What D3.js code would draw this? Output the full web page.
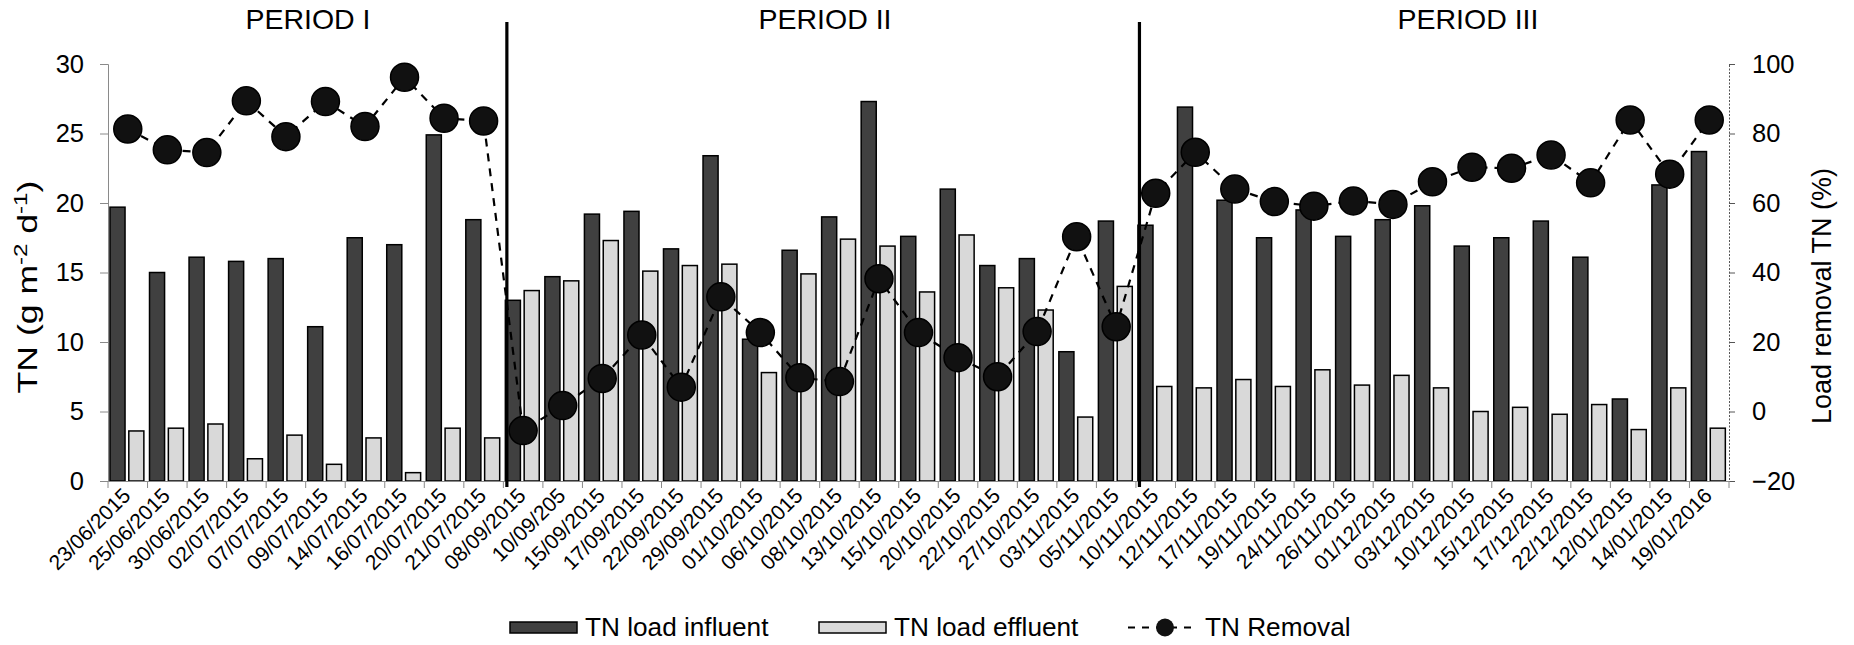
<!DOCTYPE html>
<html><head><meta charset="utf-8">
<script src="https://cdn.jsdelivr.net/npm/d3@7"></script>
<style>html,body{margin:0;padding:0;background:#fff;} svg text{font-family:"Liberation Sans",Arial,sans-serif;fill:#000;}</style>
</head><body><svg id="c" width="1854" height="645"></svg>
<script>
const dates = ["23/06/2015","25/06/2015","30/06/2015","02/07/2015","07/07/2015","09/07/2015","14/07/2015","16/07/2015","20/07/2015","21/07/2015",
"08/09/2015","10/09/205","15/09/2015","17/09/2015","22/09/2015","29/09/2015","01/10/2015","06/10/2015","08/10/2015","13/10/2015","15/10/2015","20/10/2015","22/10/2015","27/10/2015","03/11/2015","05/11/2015",
"10/11/2015","12/11/2015","17/11/2015","19/11/2015","24/11/2015","26/11/2015","01/12/2015","03/12/2015","10/12/2015","15/12/2015","17/12/2015","22/12/2015","12/01/2015","14/01/2015","19/01/2016"];
const influent = [19.7,15.0,16.1,15.8,16.0,11.1,17.5,17.0,24.9,18.8,
13.0,14.7,19.2,19.4,16.7,23.4,10.2,16.6,19.0,27.3,17.6,21.0,15.5,16.0,9.3,18.7,
18.4,26.9,20.2,17.5,19.5,17.6,18.8,19.8,16.9,17.5,18.7,16.1,5.9,21.3,23.7];
const effluent = [3.6,3.8,4.1,1.6,3.3,1.2,3.1,0.6,3.8,3.1,
13.7,14.4,17.3,15.1,15.5,15.6,7.8,14.9,17.4,16.9,13.6,17.7,13.9,12.3,4.6,14.0,
6.8,6.7,7.3,6.8,8.0,6.9,7.6,6.7,5.0,5.3,4.8,5.5,3.7,6.7,3.8];
const removal = [81.3,75.3,74.5,89.4,79.1,89.2,82.0,96.2,84.4,83.6,
-5.5,1.7,9.5,22.0,7.0,33.0,22.7,9.7,8.6,38.2,22.7,15.5,10.0,23.0,50.3,24.4,
62.8,74.6,64.0,60.4,59.1,60.6,59.6,66.1,70.3,70.0,73.8,65.8,83.9,68.3,83.9];
const leftTicks = [0,5,10,15,20,25,30];
const rightTicks = [-20,0,20,40,60,80,100];
const periodNames = ["PERIOD I","PERIOD II","PERIOD III"];
const periodStart = [0,10,26];
const seriesNames = ["TN load influent","TN load effluent","TN Removal"];

const svg = d3.select("#c");
const L = 108, R = 1729, T = 64, B = 481;
const x = d3.scaleBand().domain(dates).range([L, R]);
const sub = d3.scaleBand().domain(["inf","eff"]).range([0, x.bandwidth()]).paddingInner(0.2).paddingOuter(0.15).align(0.35);
const yL = d3.scaleLinear().domain([0,30]).range([B, T]);
const yR = d3.scaleLinear().domain([-20,100]).range([B, T]);
const DARK = "#404040", LIGHT = "#d9d9d9";

// bars
const g = svg.append("g");
g.selectAll("rect.inf").data(dates).join("rect")
  .attr("x", d => x(d) + sub("inf")).attr("width", sub.bandwidth())
  .attr("y", (d,i) => yL(influent[i])).attr("height", (d,i) => yL(0) - yL(influent[i]))
  .attr("fill", DARK).attr("stroke", "#000").attr("stroke-width", 1.5);
g.selectAll("rect.eff").data(dates).join("rect")
  .attr("x", d => x(d) + sub("eff")).attr("width", sub.bandwidth())
  .attr("y", (d,i) => yL(effluent[i])).attr("height", (d,i) => yL(0) - yL(effluent[i]))
  .attr("fill", LIGHT).attr("stroke", "#000").attr("stroke-width", 1.5);

// axes
const axL = svg.append("g").attr("transform", `translate(${L},0)`)
  .call(d3.axisLeft(yL).tickValues(leftTicks).tickSize(8).tickPadding(16));
axL.select(".domain").attr("stroke", "#8a8a8a");
axL.selectAll(".tick line").attr("stroke", "#8a8a8a");
axL.selectAll("text").attr("font-size", 25.5).attr("font-family", "Liberation Sans, Arial, sans-serif");

const axR = svg.append("g").attr("transform", `translate(${R},0)`)
  .call(d3.axisRight(yR).tickValues(rightTicks).tickSize(6).tickPadding(17));
axR.select(".domain").attr("stroke", "#555").attr("stroke-dasharray", "2,1.5");
axR.selectAll(".tick line").attr("stroke", "#555");
axR.selectAll("text").attr("font-size", 25.5).attr("font-family", "Liberation Sans, Arial, sans-serif");

const axB = svg.append("g").attr("transform", `translate(0,${B})`)
  .call(d3.axisBottom(x).tickSize(0).tickFormat(""));
axB.select(".domain").attr("stroke", "#8a8a8a");
const bounds = dates.map(d => x(d)).concat([R]);
axB.selectAll("line.bt").data(bounds).join("line").attr("class","bt")
  .attr("x1", d => d).attr("x2", d => d).attr("y1", 0).attr("y2", 7).attr("stroke", "#8a8a8a");
svg.append("g").selectAll("text").data(dates).join("text")
  .attr("transform", d => `translate(${x(d) + x.bandwidth()/2 + 4},${B + 16}) rotate(-45)`)
  .attr("text-anchor", "end").attr("font-size", 21).text(d => d);

// period dividers
svg.selectAll("line.div").data(periodStart.slice(1)).join("line").attr("class","div")
  .attr("x1", i => x(dates[i]) + 3.5).attr("x2", i => x(dates[i]) + 3.5)
  .attr("y1", 22).attr("y2", 487).attr("stroke", "#000").attr("stroke-width", 3.2);

// period titles
const titleX = [308, 825, 1468];
svg.selectAll("text.pt").data(periodNames).join("text").attr("class","pt")
  .attr("x", (d,i) => titleX[i]).attr("y", 29).attr("text-anchor", "middle")
  .attr("font-size", 28.5).text(d => d);

// removal line
const cx = i => x(dates[i]) + x.bandwidth()/2;
const line = d3.line().x((d,i) => cx(i)).y(d => yR(d));
svg.append("path").datum(removal).attr("d", line).attr("fill", "none")
  .attr("stroke", "#000").attr("stroke-width", 2.2).attr("stroke-dasharray", "8,7");
svg.selectAll("circle.rm").data(removal).join("circle").attr("class","rm")
  .attr("cx", (d,i) => cx(i)).attr("cy", d => yR(d)).attr("r", 14)
  .attr("fill", "#111").attr("stroke", "#000").attr("stroke-width", 1.5);

// axis titles
const lt = svg.append("text").attr("transform", "translate(37,287) rotate(-90) scale(1.27,1)")
  .attr("text-anchor", "middle").attr("font-size", 28);
lt.append("tspan").text("TN (g m");
lt.append("tspan").attr("dy", -10).attr("font-size", 19).text("-2");
lt.append("tspan").attr("dy", 10).text(" d");
lt.append("tspan").attr("dy", -10).attr("font-size", 19).text("-1");
lt.append("tspan").attr("dy", 10).text(")");
svg.append("text").attr("transform", "translate(1831,296) rotate(-90)")
  .attr("text-anchor", "middle").attr("font-size", 27).text("Load removal TN (%)");

// legend
const lg = svg.append("g");
lg.append("rect").attr("x", 510).attr("y", 622).attr("width", 67).attr("height", 11).attr("fill", DARK).attr("stroke", "#000").attr("stroke-width", 1.5);
lg.append("text").attr("x", 585).attr("y", 636).attr("font-size", 26.2).text(seriesNames[0]);
lg.append("rect").attr("x", 819).attr("y", 622).attr("width", 67).attr("height", 11).attr("fill", LIGHT).attr("stroke", "#000").attr("stroke-width", 1.5);
lg.append("text").attr("x", 894).attr("y", 636).attr("font-size", 26.2).text(seriesNames[1]);
lg.append("line").attr("x1", 1128).attr("x2", 1192).attr("y1", 627.5).attr("y2", 627.5).attr("stroke", "#000").attr("stroke-width", 2).attr("stroke-dasharray", "7,7");
lg.append("circle").attr("cx", 1165).attr("cy", 627.5).attr("r", 9).attr("fill", "#111");
lg.append("text").attr("x", 1205).attr("y", 636).attr("font-size", 26.2).text(seriesNames[2]);
</script></body></html>
